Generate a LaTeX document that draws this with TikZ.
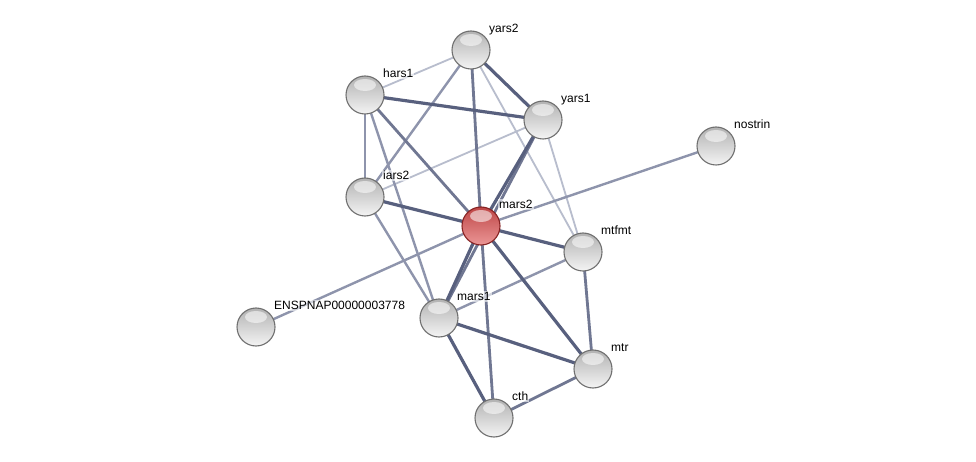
\documentclass[tikz,border=0pt]{standalone}
\usepackage{fontspec}
\setmainfont{Liberation Sans}
\usetikzlibrary{backgrounds}
\definecolor{eA}{RGB}{88,96,126}
\definecolor{eB}{RGB}{112,119,146}
\definecolor{eC}{RGB}{142,148,172}
\definecolor{eD}{RGB}{184,189,205}
\definecolor{rimgray}{RGB}{112,112,112}
\definecolor{rimred}{RGB}{135,35,35}
\definecolor{gtop}{RGB}{178,178,178}
\definecolor{gmid}{RGB}{218,218,218}
\definecolor{gbot}{RGB}{244,244,244}
\definecolor{rtop}{RGB}{190,70,70}
\definecolor{rmid}{RGB}{215,110,110}
\definecolor{rbot}{RGB}{235,150,150}
\tikzset{
  prot/.style={circle, minimum size=38pt, inner sep=0pt, top color=gtop, middle color=gmid, bottom color=gbot,
    draw=rimgray, line width=1.1pt,
    path picture={\fill[white,opacity=0.55] ([yshift=10pt]path picture bounding box.center) ellipse [x radius=11pt, y radius=6pt];}},
  query/.style={prot, top color=rtop, middle color=rmid, bottom color=rbot, draw=rimred},
  lab/.style={anchor=base west, font=\fontsize{12pt}{14pt}\selectfont, text=black,
    fill=white, fill opacity=0.6, text opacity=1, inner sep=1pt},
  eA/.style={draw=eA, line width=3.2pt},
  eB/.style={draw=eB, line width=2.8pt},
  eC/.style={draw=eC, line width=2.4pt},
  eD/.style={draw=eD, line width=1.8pt},
}
\begin{document}
\begin{tikzpicture}[x=1pt, y=-1pt]
\begin{pgfonlayer}{background}
\fill[white] (0,0) rectangle (976,462);
\end{pgfonlayer}
\useasboundingbox (0,0) rectangle (976,462);
% nodes
\node[prot] (yars2) at (471,50) {};
\node[prot] (hars1) at (365,95) {};
\node[prot] (yars1) at (543,120) {};
\node[prot] (nostrin) at (716,146) {};
\node[prot] (iars2) at (365,197) {};
\node[prot] (mtfmt) at (583,252) {};
\node[prot] (ensp) at (256,327) {};
\node[prot] (mars1) at (439,318) {};
\node[prot] (mtr) at (593,369) {};
\node[prot] (cth) at (494,418) {};
\node[query] (mars2) at (481,226) {};
% edges behind the nodes
\begin{pgfonlayer}{background}
\draw[eD] (hars1.center) -- (yars2.center);
\draw[eD] (yars1.center) -- (iars2.center);
\draw[eD] (yars2.center) -- (mtfmt.center);
\draw[eD] (yars1.center) -- (mtfmt.center);
\draw[eC] (yars2.center) -- (iars2.center);
\draw[eC] (hars1.center) -- (iars2.center);
\draw[eC] (hars1.center) -- (mars1.center);
\draw[eC] (iars2.center) -- (mars1.center);
\draw[eC] (nostrin.center) -- (mars2.center);
\draw[eC] (ensp.center) -- (mars2.center);
\draw[eC] (mtfmt.center) -- (mars1.center);
\draw[eB] (yars2.center) -- (mars2.center);
\draw[eB] (hars1.center) -- (mars2.center);
\draw[eB] (yars1.center) -- (mars1.center);
\draw[eB] (mars2.center) -- (cth.center);
\draw[eB] (mtfmt.center) -- (mtr.center);
\draw[eB] (mtr.center) -- (cth.center);
\draw[eA] (hars1.center) -- (yars1.center);
\draw[eA] (yars2.center) -- (yars1.center);
\draw[eA] (yars1.center) -- (mars2.center);
\draw[eA] (iars2.center) -- (mars2.center);
\draw[eA] (mars2.center) -- (mtfmt.center);
\draw[eA] (mars2.center) -- (mars1.center);
\draw[eA] (mars2.center) -- (mtr.center);
\draw[eA] (mars1.center) -- (mtr.center);
\draw[eA] (mars1.center) -- (cth.center);
\end{pgfonlayer}
% labels
\node[lab] (lyars2) at ([shift={(17pt,17.5pt)}]yars2.center) {yars2};
\node[lab] (lhars1) at ([shift={(17pt,17.5pt)}]hars1.center) {hars1};
\node[lab] (lyars1) at ([shift={(17pt,17.5pt)}]yars1.center) {yars1};
\node[lab] (lnostrin) at ([shift={(17pt,17.5pt)}]nostrin.center) {nostrin};
\node[lab] (liars2) at ([shift={(17pt,17.5pt)}]iars2.center) {iars2};
\node[lab] (lmars2) at ([shift={(17pt,17.5pt)}]mars2.center) {mars2};
\node[lab] (lmtfmt) at ([shift={(17pt,17.5pt)}]mtfmt.center) {mtfmt};
\node[lab] (lensp) at ([shift={(17pt,17.5pt)}]ensp.center) {ENSPNAP00000003778};
\node[lab] (lmars1) at ([shift={(17pt,17.5pt)}]mars1.center) {mars1};
\node[lab] (lmtr) at ([shift={(17pt,17.5pt)}]mtr.center) {mtr};
\node[lab] (lcth) at ([shift={(17pt,17.5pt)}]cth.center) {cth};
\end{tikzpicture}
\end{document}
